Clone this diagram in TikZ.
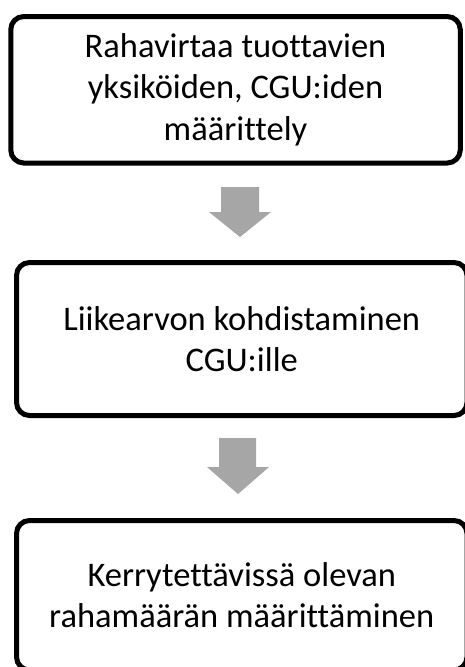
\documentclass[tikz,border=0pt]{standalone}
\usepackage{fontspec}
\setmainfont[Ligatures=NoCommon]{Carlito}
\definecolor{arrowgray}{RGB}{166,166,166}
\begin{document}
\begin{tikzpicture}[x=1pt,y=-1pt,
  stepbox/.style={draw=black, line width=5pt, rounded corners=13pt, fill=white,
    align=center, inner sep=0pt, font=\fontsize{34.5}{41.5}\selectfont},
  blockarrow/.style={fill=arrowgray, draw=none}]
\useasboundingbox[fill=white] (0,0) rectangle (465,667);
\node[stepbox, minimum width=449.5pt, minimum height=146.5pt] (b1) at (235.5,89.75)
  {Rahavirtaa tuottavien\\yksiköiden, CGU:iden\\määrittely};
\node[stepbox, minimum width=450.5pt, minimum height=153pt] (b2) at (241.75,339)
  {Liikearvon kohdistaminen\\CGU:ille};
\node[stepbox, minimum width=450.5pt, minimum height=149.5pt] (b3) at (241.75,595.25)
  {Kerrytettävissä olevan\\rahamäärän määrittäminen};
\fill[blockarrow] (221,187) -- (259,187) -- (259,212) -- (271,212) -- (240,237) -- (209,212) -- (221,212) -- cycle;
\fill[blockarrow] (219,438) -- (256,438) -- (256,467) -- (269,467) -- (238,494) -- (207,467) -- (219,467) -- cycle;
\end{tikzpicture}
\end{document}
